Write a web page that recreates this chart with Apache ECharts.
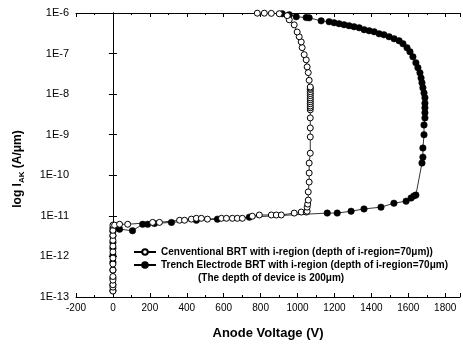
<!DOCTYPE html>
<html>
<head>
<meta charset="utf-8">
<script src="https://cdn.jsdelivr.net/npm/echarts@6/dist/echarts.min.js"></script>
<style>
  html, body { margin: 0; padding: 0; background: #fff; }
  #chart { width: 463px; height: 345px; }
</style>
</head>
<body>
<div id="chart"></div>
<script>
// values
var convV = [0, 0, 0, 0, 0, 0, 0, 0, 0, 0, 0, 0, 0, 0,
  9, 36, 80, 215, 252, 361, 388, 425, 452, 479, 512, 588, 615, 647, 674, 701, 755, 793, 858, 885, 912, 982, 1020, 1047,
  1052, 1052, 1055, 1058, 1058, 1063, 1063, 1063,
  1069, 1069, 1069, 1069, 1069, 1069, 1069, 1069, 1069, 1069, 1069, 1069, 1069, 1069, 1069, 1069, 1069,
  1063, 1058, 1052, 1047, 1036, 1025, 1020, 1009, 998, 982, 955, 944, 901, 858, 820, 782];
var convI = [1.4e-13, 1.75e-13, 2.0e-13, 2.6e-13, 3.2e-13, 4.6e-13, 6.5e-13, 9.1e-13, 1.3e-12, 1.8e-12, 2.5e-12, 3.3e-12, 4.4e-12, 5.9e-12,
  5.9e-12, 6.2e-12, 6.2e-12, 6.9e-12, 6.9e-12, 7.8e-12, 7.8e-12, 8.3e-12, 8.7e-12, 8.7e-12, 8.3e-12, 8.7e-12, 8.7e-12, 8.7e-12, 8.7e-12, 8.7e-12, 9.8e-12, 1.05e-11, 1.05e-11, 1.05e-11, 1.05e-11, 1.17e-11, 1.24e-11, 1.24e-11,
  1.3e-11, 1.64e-11, 1.95e-11, 2.45e-11, 3.9e-11, 6.8e-11, 1.14e-10, 2.0e-10,
  3.5e-10, 8.8e-10, 1.47e-9, 2.6e-9, 4.1e-9, 4.6e-9, 5.1e-9, 5.8e-9, 6.5e-9, 7.3e-9, 8.1e-9, 9.2e-9, 1.03e-8, 1.15e-8, 1.3e-8, 1.4e-8, 1.5e-8,
  2.2e-8, 3.4e-8, 4.7e-8, 7.0e-8, 9.4e-8, 1.4e-7, 1.94e-7, 2.6e-7, 3.4e-7, 5.1e-7, 6.8e-7, 8.6e-7, 9.6e-7, 9.8e-7, 9.9e-7, 9.9e-7];

var trenchV = [0, 0, 0, 0, 0, 0, 0, 0, 0, 0, 0,
  10, 36, 106, 161, 188, 225, 317, 452, 566, 739, 1161, 1215, 1290, 1360, 1452, 1522, 1588, 1615, 1630, 1641,
  1674, 1679, 1679, 1685, 1685, 1690, 1690, 1690, 1690, 1690, 1685, 1679, 1674, 1669, 1663, 1652, 1641,
  1625, 1609, 1593, 1571, 1550, 1523, 1496, 1468, 1442, 1415, 1388, 1361, 1334, 1306, 1279, 1252, 1225, 1198, 1171,
  1128, 1063, 1047, 993, 955, 917];
var trenchI = [1.45e-13, 2.0e-13, 2.9e-13, 4.6e-13, 7.2e-13, 1.07e-12, 1.6e-12, 2.2e-12, 3.2e-12, 4.2e-12, 5.0e-12,
  5.0e-12, 4.7e-12, 4.3e-12, 6.2e-12, 6.2e-12, 6.5e-12, 6.9e-12, 7.8e-12, 8.3e-12, 9.3e-12, 1.17e-11, 1.17e-11, 1.3e-11, 1.48e-11, 1.64e-11, 2.05e-11, 2.3e-11, 2.75e-11, 3.1e-11, 3.25e-11,
  2.0e-10, 2.8e-10, 4.7e-10, 1.0e-9, 1.74e-9, 2.6e-9, 3.5e-9, 4.6e-9, 6.0e-9, 8.1e-9, 1.07e-8, 1.43e-8, 1.9e-8, 2.5e-8, 3.35e-8, 4.5e-8, 5.9e-8,
  8.3e-8, 1.11e-7, 1.39e-7, 1.75e-7, 2.07e-7, 2.32e-7, 2.6e-7, 2.91e-7, 3.08e-7, 3.45e-7, 3.65e-7, 3.87e-7, 4.33e-7, 4.59e-7, 4.86e-7, 5.14e-7, 5.45e-7, 5.76e-7, 6.1e-7,
  6.4e-7, 7.6e-7, 7.7e-7, 8.1e-7, 9.1e-7, 9.6e-7];

var seriesNames = [
  'Cenventional BRT with i-region (depth of i-region=70μm))',
  'Trench Electrode BRT with i-region (depth of i-region=70μm)'
];
var noteText = '(The depth of device is 200μm)';

function pairs(xs, ys) {
  return xs.map(function (x, i) { return [x, ys[i]]; });
}

var font = 'Liberation Sans, Arial, Helvetica, sans-serif';
var myChart = echarts.init(document.getElementById('chart'));

var xBase = {
  type: 'value',
  min: -200,
  max: 1880,
  interval: 200,
  axisLine: { lineStyle: { color: '#000', width: 1 } },
  axisTick: { inside: true, length: 4, lineStyle: { color: '#000' } },
  minorTick: { show: true, splitNumber: 2, length: 2, lineStyle: { color: '#000' } },
  splitLine: { show: false }
};
var yBase = {
  type: 'log',
  logBase: 10,
  min: 1e-13,
  max: 1e-6,
  axisLine: { show: true, lineStyle: { color: '#000', width: 1 } },
  axisTick: { show: true, inside: true, length: 4, lineStyle: { color: '#000' } },
  splitLine: { show: false }
};

myChart.setOption({
  animation: false,
  textStyle: { fontFamily: font },
  grid: { left: 76, right: 2, top: 13, bottom: 48 },
  title: {
    text: noteText,
    left: 198,
    top: 273,
    padding: 0,
    textStyle: { fontFamily: font, fontSize: 10, fontWeight: 'bold', color: '#000' }
  },
  legend: {
    orient: 'vertical',
    left: 133,
    top: 247,
    padding: 0,
    itemWidth: 22,
    itemHeight: 7,
    itemGap: 3,
    textStyle: { fontFamily: font, fontSize: 10, fontWeight: 'bold', color: '#000' },
    data: seriesNames
  },
  xAxis: [
    Object.assign({}, xBase, {
      position: 'bottom',
      name: 'Anode Voltage (V)',
      nameLocation: 'middle',
      nameGap: 30,
      nameTextStyle: { fontFamily: font, fontSize: 13, fontWeight: 'bold', color: '#000' },
      axisLabel: {
        color: '#000', fontSize: 10, margin: 6,
        formatter: function (v) { return (v % 200 === 0 && v <= 1800) ? String(v) : ''; }
      }
    }),
    Object.assign({}, xBase, { position: 'top', axisLabel: { show: false } })
  ],
  yAxis: [
    Object.assign({}, yBase, {
      position: 'left',
      name: '{a|log I}{b|AK}{a| (A/μm)}',
      nameLocation: 'middle',
      nameGap: 50,
      nameTextStyle: {
        padding: [0, 28, 0, 0],
        rich: {
          a: { fontFamily: font, fontSize: 12, fontWeight: 'bold', color: '#000', lineHeight: 16 },
          b: { fontFamily: font, fontSize: 8, fontWeight: 'bold', color: '#000', verticalAlign: 'bottom', lineHeight: 16, padding: [6, 0, 0, 0] }
        }
      },
      axisLabel: {
        color: '#000', fontSize: 11, margin: 7,
        formatter: function (v) { return '1E' + Math.round(Math.log10(v)); }
      }
    }),
    Object.assign({}, yBase, { position: 'right', axisLabel: { show: false } })
  ],
  series: [
    {
      name: seriesNames[0],
      type: 'line',
      data: pairs(convV, convI),
      symbol: 'circle',
      symbolSize: 6,
      lineStyle: { color: '#000', width: 0.8 },
      itemStyle: { color: '#fff', borderColor: '#000', borderWidth: 1 },
      z: 3
    },
    {
      name: seriesNames[1],
      type: 'line',
      data: pairs(trenchV, trenchI),
      symbol: 'circle',
      symbolSize: 6.5,
      lineStyle: { color: '#000', width: 0.8 },
      itemStyle: { color: '#000', borderColor: '#000', borderWidth: 0.5 },
      z: 2
    }
  ]
});
</script>
</body>
</html>
